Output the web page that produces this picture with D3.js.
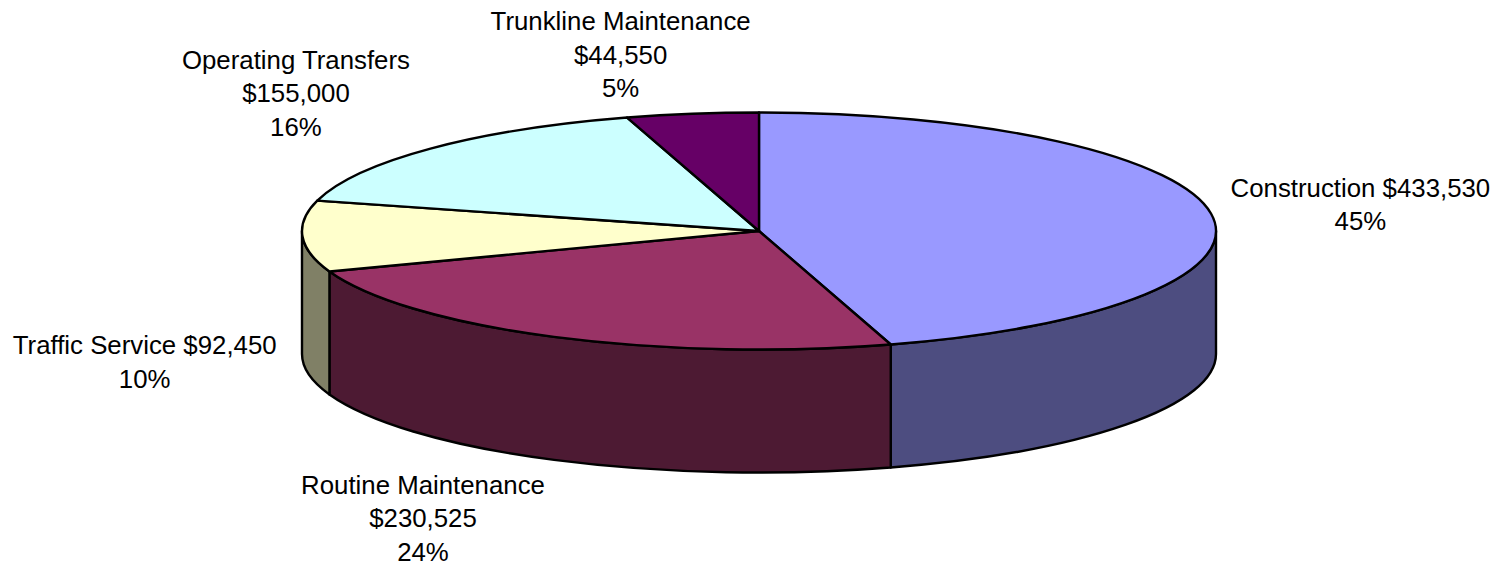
<!DOCTYPE html>
<html>
<head>
<meta charset="utf-8">
<script src="https://cdn.jsdelivr.net/npm/d3@7"></script>
<style>
  html, body { margin: 0; padding: 0; background: #fff; }
  svg { display: block; }
  text { font-family: "Liberation Sans", Arial, Helvetica, sans-serif; fill: #000; }
</style>
</head>
<body>
<svg id="chart" width="1507" height="573"></svg>
<script>
// ---- data ----
const categories = ["Construction", "Routine Maintenance", "Traffic Service", "Operating Transfers", "Trunkline Maintenance"];
const values = [433530, 230525, 92450, 155000, 44550];
const colors = ["#9999FF", "#993366", "#FFFFCC", "#CCFFFF", "#660066"];

// ---- layout / style ----
const W = 1507, H = 573;
const cx = 759, cy = 231, rx = 457, ry = 118.5, depth = 123;
const fontSize = 25.8, lineGap = 33.5;
// whether the name is put on its own line (Excel wrapping)
const wrapName = [false, true, false, true, true];
// small nudges of the label blocks from their computed position
const labelNudge = [[9, -3], [-71, 5], [-14, 1], [-44, -14], [-51, 0]];

const svg = d3.select("#chart");
const total = d3.sum(values);
const pct = d3.format(".0%");
const money = v => "$" + d3.format(",")(v);

const pie = d3.pie().sort(null).value(d => d.value).startAngle(0).endAngle(2 * Math.PI);
const arcs = pie(categories.map((c, i) => ({ name: c, value: values[i], color: colors[i], i })));

const px = (a, k = 1) => cx + rx * k * Math.sin(a);
const py = (a, k = 1) => cy - ry * k * Math.cos(a);

// ---- sides (front half only: angles between PI/2 and 3PI/2) ----
const sideG = svg.append("g");
arcs.forEach(d => {
  const a0 = Math.max(d.startAngle, Math.PI / 2);
  const a1 = Math.min(d.endAngle, 3 * Math.PI / 2);
  if (a1 <= a0) return;
  const large = (a1 - a0) > Math.PI ? 1 : 0;
  const path = `M${px(a0)},${py(a0)} A${rx},${ry} 0 ${large} 1 ${px(a1)},${py(a1)} ` +
               `L${px(a1)},${py(a1) + depth} A${rx},${ry} 0 ${large} 0 ${px(a0)},${py(a0) + depth} Z`;
  const c = d3.rgb(d.data.color);
  const dark = d3.rgb(c.r * 0.5, c.g * 0.5, c.b * 0.5);
  sideG.append("path")
    .attr("d", path)
    .attr("fill", dark)
    .attr("stroke", "#000")
    .attr("stroke-width", 2.4)
    .attr("stroke-linejoin", "round");
});

// ---- top faces ----
const topG = svg.append("g");
arcs.forEach(d => {
  const a0 = d.startAngle, a1 = d.endAngle;
  const large = (a1 - a0) > Math.PI ? 1 : 0;
  const path = `M${cx},${cy} L${px(a0)},${py(a0)} A${rx},${ry} 0 ${large} 1 ${px(a1)},${py(a1)} Z`;
  topG.append("path")
    .attr("d", path)
    .attr("fill", d.data.color)
    .attr("stroke", "#000")
    .attr("stroke-width", 2.4)
    .attr("stroke-linejoin", "round");
});

// ---- labels ----
const labG = svg.append("g");
arcs.forEach((d, i) => {
  const name = d.data.name, v = d.data.value;
  const lines = wrapName[i]
    ? [name, money(v), pct(v / total)]
    : [name + " " + money(v), pct(v / total)];
  const mid = (d.startAngle + d.endAngle) / 2;
  const s = Math.sin(mid), c = Math.cos(mid);
  // anchor just outside the pie outline
  const ax = cx + (rx + 12) * s;
  const ay = cy - (ry + 12) * c + (c < 0 ? depth : 0);
  // measure block
  const g = labG.append("g");
  const t = g.append("text").attr("text-anchor", "middle").attr("font-size", fontSize);
  lines.forEach((l, j) => t.append("tspan").attr("x", 0).attr("y", j * lineGap).text(l));
  const bb = t.node().getBBox();
  const hw = bb.width / 2, hh = bb.height / 2;
  const bx = ax + hw * s + labelNudge[i][0];
  const by = ay - hh * c + labelNudge[i][1];
  const off = by - (bb.y + bb.height / 2);
  g.attr("transform", `translate(${bx},${off})`);
});
</script>
</body>
</html>
